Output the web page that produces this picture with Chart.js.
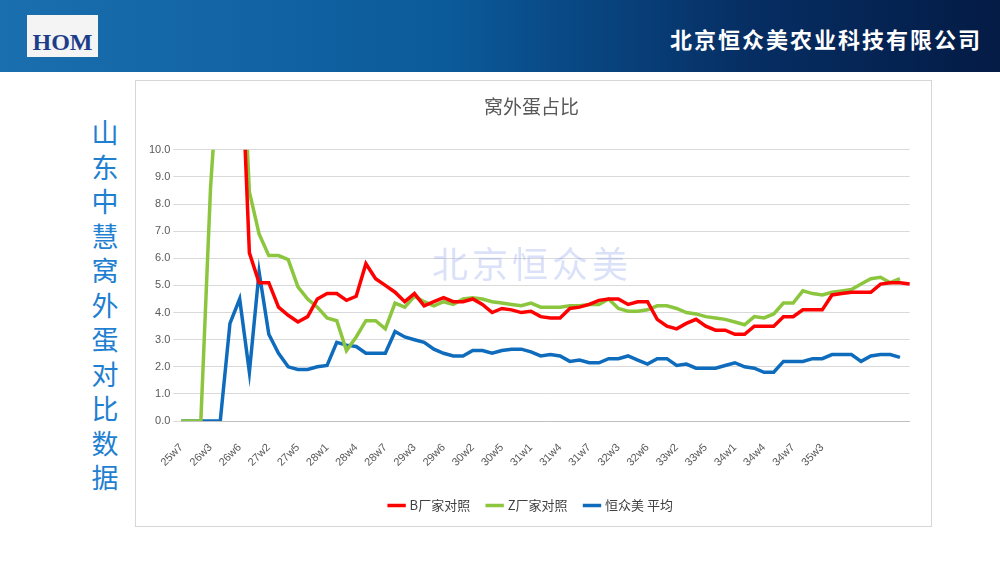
<!DOCTYPE html>
<html lang="zh-CN">
<head>
<meta charset="UTF-8">
<title>窝外蛋占比</title>
<script src="https://cdn.jsdelivr.net/npm/chart.js"></script>
<style>
  body { margin: 0; width: 1000px; height: 563px; background: #fff; position: relative; overflow: hidden; font-family: "Noto Sans CJK SC", sans-serif; }
  .topbar { position: absolute; left: 0; top: 0; width: 1000px; height: 72px; background: linear-gradient(90deg, #1a6fae 0%, #0b5a9a 45%, #062e63 75%, #041b45 100%); }
  .logo { position: absolute; left: 27px; top: 15px; width: 71px; height: 42px; background: #f4f4f4; color: #1b3d8a; font: bold 24px "Liberation Serif", serif; text-align: center; line-height: 54px; }
  .company { position: absolute; right: 18px; top: 22px; color: #fff; font: bold 22px "Noto Sans CJK SC", serif; letter-spacing: 2px; }
  .side { position: absolute; left: 90px; top: 115px; width: 30px; color: #1f7fd0; font-size: 27px; line-height: 34.5px; text-align: center; }
  .box { position: absolute; left: 135px; top: 80px; width: 795px; height: 445px; border: 1px solid #d6d6d6; }
  .mark { position: absolute; left: 432px; top: 236px; color: rgba(150,170,235,0.35); font: 36px "Noto Sans CJK SC", serif; letter-spacing: 4px; }
</style>
</head>
<body>
<div class="topbar"><div class="logo">HOM</div><div class="company">北京恒众美农业科技有限公司</div></div>
<div class="side">山<br>东<br>中<br>慧<br>窝<br>外<br>蛋<br>对<br>比<br>数<br>据</div>
<div class="box"><canvas id="grafico" width="795" height="445"></canvas></div>
<div class="mark">北京恒众美</div>

<script>
// semanas: 25w7 até 36w5
var semanas = ['25w7'];
for (var s = 26; s <= 36; s++) {
    for (var d = 1; d <= 7; d++) semanas.push(s + 'w' + d);
}
semanas = semanas.slice(0, 76);

var fabricaB = [null, null, null, null, null, null, 15, 6.2, 5.1, 5.1,
    4.2, 3.9, 3.65, 3.85, 4.5, 4.7, 4.7, 4.45, 4.6, 5.8,
    5.25, 5.0, 4.75, 4.4, 4.7, 4.25, 4.4, 4.55, 4.4, 4.4,
    4.5, 4.3, 4.0, 4.15, 4.1, 4.0, 4.05, 3.85, 3.8, 3.8,
    4.15, 4.2, 4.3, 4.45, 4.5, 4.5, 4.3, 4.4, 4.4, 3.75,
    3.5, 3.4, 3.6, 3.75, 3.5, 3.35, 3.35, 3.2, 3.2, 3.5,
    3.5, 3.5, 3.85, 3.85, 4.1, 4.1, 4.1, 4.65, 4.7, 4.75,
    4.75, 4.75, 5.05, 5.1, 5.1, 5.05];

var fabricaZ = [0, 0, 0, 8.6, 14, 16, 16, 8.45, 6.9, 6.1,
    6.1, 5.95, 4.95, 4.5, 4.2, 3.8, 3.7, 2.6, 3.1, 3.7,
    3.7, 3.4, 4.35, 4.2, 4.6, 4.4, 4.25, 4.4, 4.3, 4.5,
    4.55, 4.5, 4.4, 4.35, 4.3, 4.25, 4.35, 4.2, 4.2, 4.2,
    4.25, 4.25, 4.3, 4.3, 4.5, 4.15, 4.05, 4.05, 4.1, 4.25,
    4.25, 4.15, 4.0, 3.95, 3.85, 3.8, 3.75, 3.65, 3.55, 3.85,
    3.8, 3.95, 4.35, 4.35, 4.8, 4.7, 4.65, 4.75, 4.8, 4.85,
    5.05, 5.25, 5.3, 5.1, 5.25];

var hengzhongmei = [0, 0, 0, 0, 0, 3.6, 4.5, 1.8, 5.5, 3.2,
    2.5, 2.0, 1.9, 1.9, 2.0, 2.05, 2.9, 2.8, 2.75, 2.5,
    2.5, 2.5, 3.3, 3.1, 3.0, 2.9, 2.65, 2.5, 2.4, 2.4,
    2.6, 2.6, 2.5, 2.6, 2.65, 2.65, 2.55, 2.4, 2.45, 2.4,
    2.2, 2.25, 2.15, 2.15, 2.3, 2.3, 2.4, 2.25, 2.1, 2.3,
    2.3, 2.05, 2.1, 1.95, 1.95, 1.95, 2.05, 2.15, 2.0, 1.95,
    1.8, 1.8, 2.2, 2.2, 2.2, 2.3, 2.3, 2.45, 2.45, 2.45,
    2.2, 2.4, 2.45, 2.45, 2.35];

var ticksY = [0, 1, 2, 3, 4, 5, 6, 7, 8, 9, 10];

function serie(nome, dados, cor) {
    return {
        label: nome, data: dados, borderColor: cor, backgroundColor: cor,
        borderWidth: 3.5, pointRadius: 0, tension: 0, fill: false
    };
}

var config = {
    type: 'line',
    data: {
        labels: semanas,
        datasets: [
            serie('B厂家对照', fabricaB, '#ff0000'),
            serie('Z厂家对照', fabricaZ, '#8cc63f'),
            serie('恒众美 平均', hengzhongmei, '#0f6cbd')
        ]
    },
    options: {
        responsive: false,
        animation: false,
        layout: { padding: { left: 10, right: 14, top: 4, bottom: 4 } },
        plugins: {
            title: { display: true, text: '窝外蛋占比', color: '#595959', font: { size: 19, weight: 'normal', family: 'Noto Sans CJK SC' }, padding: { top: 10, bottom: 32 } },
            legend: {
                position: 'bottom',
                labels: { usePointStyle: true, pointStyle: 'line', color: '#404040', font: { size: 13, family: 'Noto Sans CJK SC' }, padding: 18 }
            },
            tooltip: { enabled: false }
        },
        scales: {
            x: {
                offset: false,
                grid: { display: false },
                border: { color: '#bfbfbf' },
                ticks: {
                    autoSkip: false, maxRotation: 45, minRotation: 45, color: '#595959',
                    font: { size: 11 }, padding: 12,
                    callback: function (v, i) { return i % 3 === 0 && i <= 66 ? semanas[i] : ''; }
                }
            },
            y: {
                min: 0, max: 10,
                afterBuildTicks: function (ax) { ax.ticks = ticksY.map(function (v) { return { value: v }; }); },
                grid: { color: '#d9d9d9' },
                border: { display: false },
                ticks: { color: '#595959', font: { size: 11 }, callback: function (v) { return v.toFixed(1); } }
            }
        }
    }
};

new Chart(document.getElementById('grafico').getContext('2d'), config);
</script>
</body>
</html>
